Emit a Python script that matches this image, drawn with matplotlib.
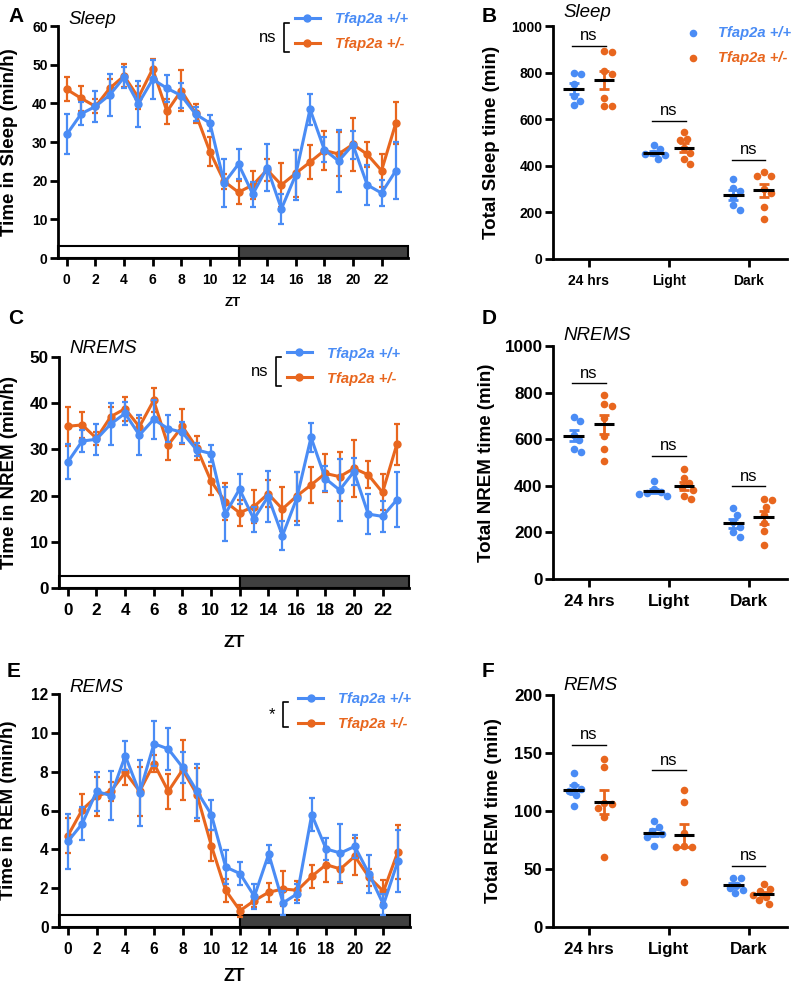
import matplotlib.pyplot as plt
from matplotlib.patches import Rectangle
import matplotlib.transforms as mtransforms
import numpy as np

plt.rcParams['font.family'] = ['Liberation Sans', 'DejaVu Sans']

BLUE = '#4A8CF5'
ORANGE = '#E8661E'
DARK = '#404040'

zt = np.arange(24)
zt_ticks = np.arange(0, 24, 2)
groups = ['24 hrs', 'Light', 'Dark']
labels = ['Tfap2a +/+', 'Tfap2a +/-']

# hourly sleep (min/h), mean and SEM
sleep_wt = [32.0, 37.3, 39.2, 42.2, 46.7, 39.9, 46.2, 43.9, 42.0, 37.2, 34.9, 19.4,
            24.3, 16.5, 23.4, 12.7, 21.5, 38.5, 28.0, 25.1, 29.3, 18.9, 16.8, 22.6]
sleep_wt_sem = [5.2, 3.0, 4.0, 5.5, 2.8, 6.0, 5.0, 3.5, 3.3, 1.8, 2.0, 6.3,
                3.8, 3.2, 6.0, 3.8, 6.4, 4.0, 3.3, 8.0, 3.6, 5.1, 3.4, 7.4]
sleep_het = [43.6, 41.3, 39.2, 43.9, 47.1, 41.5, 48.9, 37.9, 43.3, 37.4, 27.5, 19.8,
             17.0, 18.9, 22.8, 18.9, 21.9, 24.8, 27.8, 26.9, 29.4, 26.8, 22.6, 34.9]
sleep_het_sem = [3.1, 3.2, 1.8, 2.5, 3.0, 3.0, 2.5, 3.3, 5.2, 2.5, 3.7, 2.0,
                 3.0, 3.7, 2.8, 5.7, 6.0, 4.4, 5.0, 5.6, 6.9, 3.3, 4.3, 5.4]

nrem_wt = [27.3, 31.8, 32.2, 35.5, 37.8, 33.1, 36.5, 34.5, 33.7, 29.9, 29.1, 16.0,
           21.4, 14.9, 19.8, 11.3, 19.4, 32.6, 23.7, 21.2, 25.2, 16.0, 15.5, 19.1]
nrem_wt_sem = [3.8, 2.4, 3.4, 4.6, 2.5, 4.4, 4.2, 3.0, 2.3, 1.4, 1.8, 5.8,
               3.3, 2.7, 5.6, 3.1, 5.8, 3.2, 2.8, 6.7, 2.9, 4.4, 3.3, 6.0]
nrem_het = [35.0, 35.3, 32.4, 37.1, 38.8, 34.9, 40.6, 30.9, 35.0, 30.4, 23.2, 18.7,
            16.3, 17.6, 20.4, 17.1, 19.9, 22.3, 24.8, 24.1, 25.9, 24.5, 20.7, 31.1]
nrem_het_sem = [4.2, 2.8, 1.4, 2.0, 2.6, 2.0, 2.6, 3.1, 3.8, 2.6, 3.1, 4.0,
                2.8, 3.6, 2.9, 4.8, 5.3, 3.9, 4.1, 5.3, 6.1, 2.9, 3.9, 4.4]

rem_wt = [4.41, 5.32, 6.99, 6.76, 8.82, 6.90, 9.44, 9.17, 8.22, 6.99, 5.79, 3.09,
          2.75, 1.58, 3.76, 1.24, 1.72, 5.79, 4.02, 3.81, 4.15, 2.73, 1.15, 3.38]
rem_wt_sem = [1.4, 0.85, 1.0, 1.25, 0.75, 1.7, 1.15, 1.1, 0.8, 1.4, 0.77, 0.85,
              0.58, 0.65, 0.45, 0.6, 0.5, 0.85, 0.55, 1.5, 0.6, 1.0, 0.55, 1.6]
rem_het = [4.70, 6.04, 6.73, 6.99, 7.97, 6.99, 8.41, 6.99, 8.10, 6.82, 4.19, 1.89,
           0.84, 1.36, 1.79, 1.96, 1.89, 2.61, 3.21, 2.99, 3.64, 2.56, 1.84, 3.86]
rem_het_sem = [0.9, 0.8, 1.0, 0.5, 0.65, 1.25, 0.45, 0.9, 1.55, 1.35, 0.8, 0.6,
               0.3, 0.35, 0.5, 0.9, 0.5, 0.6, 0.9, 0.7, 0.95, 0.45, 0.6, 1.4]

# per-animal totals (min): 24 hrs, Light, Dark
tot_sleep_wt = [[800, 795, 750, 700, 680, 660],
                [490, 470, 455, 450, 445, 430],
                [345, 305, 290, 265, 230, 210]]
tot_sleep_het = [[890, 893, 805, 795, 690, 655, 655],
                 [545, 515, 510, 478, 455, 430, 408],
                 [372, 358, 355, 300, 285, 225, 172]]
tot_nrem_wt = [[697, 676, 620, 595, 560, 545],
               [420, 385, 375, 370, 365, 355],
               [305, 275, 245, 225, 200, 180]]
tot_nrem_het = [[788, 750, 742, 690, 612, 560, 505],
                [473, 435, 410, 395, 380, 355, 345],
                [342, 338, 310, 275, 240, 205, 148]]
tot_rem_wt = [[133, 122, 119, 117, 114, 104],
              [91, 86, 83, 80, 78, 70],
              [42, 42, 36, 34, 32, 29]]
tot_rem_het = [[145, 138, 107, 106, 103, 95, 60],
               [118, 108, 81, 70, 69, 69, 39],
               [37, 33, 31, 28, 26, 23, 20]]

# heights of the "ns" comparison lines
ns_sleep = [914, 594, 426]
ns_nrem = [840, 529, 397]
ns_rem = [157, 135, 53]

fig = plt.figure(figsize=(7.97, 9.86), dpi=100)
W, H = 797, 986


def axes_px(left, top, right, bottom):
    return fig.add_axes([left / W, 1 - bottom / H, (right - left) / W, (bottom - top) / H])


def style_axes(ax, fs):
    for s in ('top', 'right'):
        ax.spines[s].set_visible(False)
    for s in ('left', 'bottom'):
        ax.spines[s].set_linewidth(2)
    ax.tick_params(width=2, length=6, labelsize=fs)
    ax.tick_params(axis='y', pad=1.5)
    ax.tick_params(axis='x', pad=5)
    for t in ax.get_xticklabels() + ax.get_yticklabels():
        t.set_fontweight('bold')


def line_panel(ax, wt, wt_sem, het, het_sem, ymax, ystep, ylabel, title, sig,
               fs, zt_fs, zt_y, ylab_x, title_y, leg):
    xlo, xhi = -0.62, 23.85
    ax.set_xlim(xlo, xhi)
    ax.set_ylim(0, ymax)
    ax.set_yticks(np.arange(0, ymax + 1e-9, ystep))
    ax.set_xticks(zt_ticks)
    style_axes(ax, fs)
    # light / dark bar along the bottom
    tr = mtransforms.blended_transform_factory(ax.transData, ax.transAxes)
    ax.add_patch(Rectangle((xlo, 0), 12 - xlo, 0.053, transform=tr, facecolor='white',
                           edgecolor='black', lw=1.5, clip_on=False, zorder=1))
    ax.add_patch(Rectangle((12, 0), xhi - 12, 0.053, transform=tr, facecolor=DARK,
                           edgecolor='black', lw=1.5, clip_on=False, zorder=1))
    handles = []
    for vals, sem, col, z in ((het, het_sem, ORANGE, 3), (wt, wt_sem, BLUE, 4)):
        ax.errorbar(zt, vals, yerr=sem, fmt='none', ecolor=col, elinewidth=1.6,
                    capsize=2.5, capthick=1.6, zorder=z, clip_on=False)
        ln, = ax.plot(zt, vals, '-o', color=col, lw=2.2, ms=5, zorder=z, clip_on=False)
        handles.append(ln)
    handles = handles[::-1]
    ax.legend(handles, labels, loc='upper left', bbox_to_anchor=leg, frameon=False,
              borderpad=0, borderaxespad=0, handlelength=1.7, handletextpad=1.0,
              labelspacing=0.75, numpoints=1, labelcolor=[BLUE, ORANGE],
              prop={'weight': 'bold', 'style': 'italic', 'size': 10.6})
    # bracket with significance label
    bx, by0, by1, stxt = sig
    ax.plot([bx + 0.015, bx, bx, bx + 0.015], [by0, by0, by1, by1], color='black',
            lw=1.2, transform=ax.transAxes, clip_on=False)
    ax.text(bx - 0.022, (by0 + by1) / 2, stxt, ha='right', va='center', fontsize=12,
            transform=ax.transAxes)
    ax.set_ylabel(ylabel, fontsize=13.5, fontweight='bold')
    ax.yaxis.set_label_coords(ylab_x, 0.5)
    ax.set_xlabel('ZT', fontsize=zt_fs, fontweight='bold')
    ax.xaxis.set_label_coords(0.5, zt_y)
    ax.text(0.03, title_y, title, transform=ax.transAxes, fontsize=13.5,
            style='italic', va='baseline')


def swarm(ax, vals, diam=7.8):
    ypx = ax.transData.transform(np.column_stack([np.zeros(len(vals)), vals]))[:, 1]
    placed = []
    offs = np.zeros(len(vals))
    for k in np.argsort(vals)[::-1]:
        cands = [0.0]
        for px, py in placed:
            dy = abs(ypx[k] - py)
            if dy < diam:
                d = np.sqrt(diam ** 2 - dy ** 2)
                cands += [px + d, px - d]
        cands.sort(key=abs)
        for c in cands:
            if all((c - px) ** 2 + (ypx[k] - py) ** 2 >= diam ** 2 - 1e-6 for px, py in placed):
                break
        placed.append((c, ypx[k]))
        offs[k] = c
    x0 = ax.transData.transform((0, 0))[0]
    x1 = ax.transData.transform((1, 0))[0]
    return offs / (x1 - x0)


def dot_panel(ax, wt_sets, het_sets, ymax, ystep, ylabel, title, ns_y, fs,
              ylab_x, title_y, legend=False):
    ax.set_xlim(-0.45, 2.48)
    ax.set_ylim(0, ymax)
    ax.set_yticks(np.arange(0, ymax + 1e-9, ystep))
    ax.set_xticks(range(3))
    ax.set_xticklabels(groups)
    style_axes(ax, fs)
    handles = []
    for i in range(3):
        for vals, off, col in ((wt_sets[i], -0.19, BLUE), (het_sets[i], 0.19, ORANGE)):
            vals = np.array(vals, float)
            xs = i + off + swarm(ax, vals)
            sc = ax.scatter(xs, vals, s=30, color=col, lw=0, zorder=3, clip_on=False)
            if i == 0:
                handles.append(sc)
            m = vals.mean()
            se = vals.std(ddof=1) / np.sqrt(len(vals))
            ax.errorbar(i + off, m, yerr=se, fmt='none', ecolor=col, elinewidth=2,
                        capsize=3.6, capthick=2, zorder=4)
            ax.plot([i + off - 0.13, i + off + 0.13], [m, m], color='black', lw=2.2,
                    zorder=5, solid_capstyle='butt')
        ax.plot([i - 0.21, i + 0.21], [ns_y[i], ns_y[i]], color='black', lw=1)
        ax.annotate('ns', (i, ns_y[i]), xytext=(0, 2), textcoords='offset points',
                    ha='center', va='bottom', fontsize=12)
    ax.set_ylabel(ylabel, fontsize=13.5, fontweight='bold')
    ax.yaxis.set_label_coords(ylab_x, 0.5)
    ax.text(0.043, title_y, title, transform=ax.transAxes, fontsize=13.5,
            style='italic', va='baseline')
    if legend:
        ax.legend(handles, labels, loc='upper left', bbox_to_anchor=(0.575, 1.0),
                  frameon=False, borderpad=0, borderaxespad=0, handlelength=0.8,
                  handletextpad=1.3, labelspacing=0.75, scatterpoints=1,
                  labelcolor=[BLUE, ORANGE],
                  prop={'weight': 'bold', 'style': 'italic', 'size': 10.6})


axA = axes_px(58, 26, 408, 258)
line_panel(axA, sleep_wt, sleep_wt_sem, sleep_het, sleep_het_sem, 60, 10,
           'Time in Sleep (min/h)', 'Sleep', (0.646, 1.013, 0.888, 'ns'),
           10, 9.5, -0.168, -0.114, 1.01, (0.677, 1.06))

axC = axes_px(59, 357, 409, 588)
line_panel(axC, nrem_wt, nrem_wt_sem, nrem_het, nrem_het_sem, 50, 10,
           'Time in NREM (min/h)', 'NREMS', (0.62, 1.0, 0.874, 'ns'),
           12.3, 12.5, -0.205, -0.117, 1.017, (0.651, 1.045))

axE = axes_px(59, 694, 410, 927)
line_panel(axE, rem_wt, rem_wt_sem, rem_het, rem_het_sem, 12, 2,
           'Time in REM (min/h)', 'REMS', (0.638, 0.966, 0.858, '*'),
           11.2, 12.7, -0.178, -0.12, 1.009, (0.681, 1.01))

axB = axes_px(553, 26, 787, 259)
dot_panel(axB, tot_sleep_wt, tot_sleep_het, 1000, 200, 'Total Sleep time (min)',
          'Sleep', ns_sleep, 10, -0.226, 1.04, legend=True)

axD = axes_px(553, 346, 787, 579)
dot_panel(axD, tot_nrem_wt, tot_nrem_het, 1000, 200, 'Total NREM time (min)',
          'NREMS', ns_nrem, 12.3, -0.248, 1.026)

axF = axes_px(553, 695, 787, 927)
dot_panel(axF, tot_rem_wt, tot_rem_het, 200, 50, 'Total REM time (min)',
          'REMS', ns_rem, 12.2, -0.219, 1.02)

for letter, x, y in (('A', 8, 22), ('B', 482, 22), ('C', 8, 324),
                     ('D', 482, 324), ('E', 7, 677), ('F', 482, 677)):
    fig.text(x / W, 1 - y / H, letter, fontsize=15, fontweight='bold', va='baseline')

fig.savefig('out.png', dpi=100)
